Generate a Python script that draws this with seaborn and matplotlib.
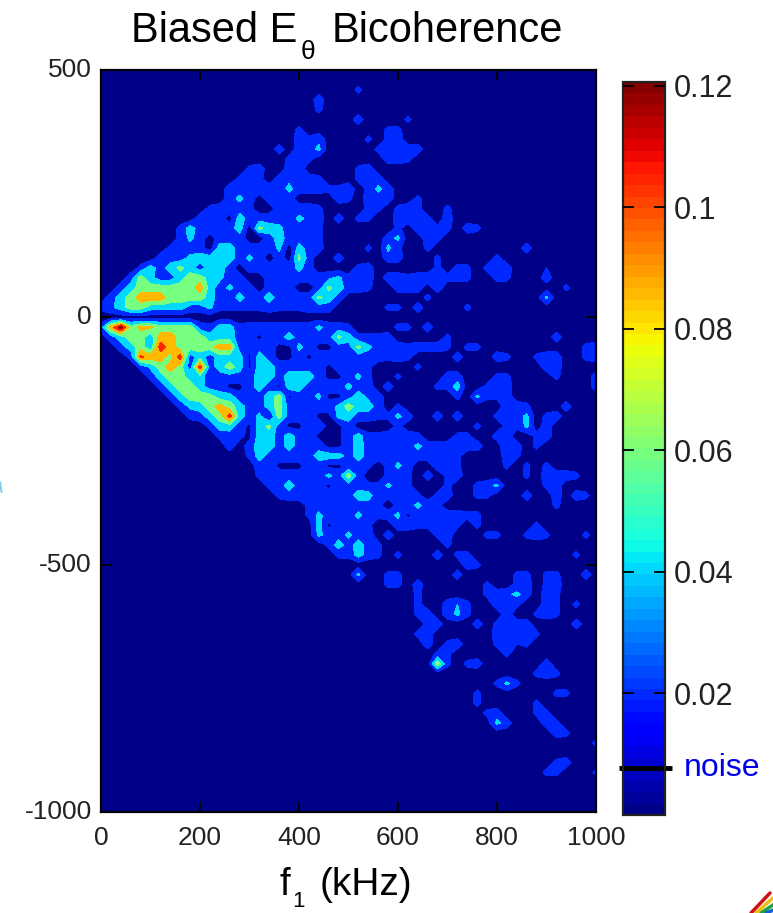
import matplotlib
matplotlib.use('Agg')
import matplotlib.pyplot as plt
from matplotlib.colors import ListedColormap
from matplotlib.lines import Line2D
import numpy as np
import pandas as pd
import seaborn as sns

sns.set_style('white')
plt.rcParams['font.family'] = ['Liberation Sans', 'DejaVu Sans']

# axes of the grid, kHz
f1_values = list(range(0, 1001, 20))
f2_values = list(range(500, -1001, -20))

f1_ticks = [0, 200, 400, 600, 800, 1000]
f2_ticks = [500, 0, -500, -1000]
cbar_ticks = [0.02, 0.04, 0.06, 0.08, 0.1, 0.12]
cbar_labels = ['0.02', '0.04', '0.06', '0.08', '0.1', '0.12']
noise_level = 0.0077

# bicoherence, in steps of 0.005 (base 36 digits)
# row index: "first column:digits"
upper_rows = {
    2: "26:3",
    3: "22:4",
    4: "22:3",
    5: "26:4 31:3",
    6: "20:3 29:33",
    7: "20:435 27:3 29:34",
    8: "18:4 20:447 28:34444",
    9: "19:343 29:443",
    10: "15:34 19:44 26:34",
    11: "14:343 18:45443 26:344",
    12: "13:4444447444335 27:374",
    13: "13:474 17:444 24:43 27:444 32:3",
    14: "11:34443 18:43443 27:33 30:343 35:3",
    15: "10:444 14:844443754 24:4 26:33 30:4443 35:4",
    16: "8:3844448 16:b874443 30:3 32:4433 37:43",
    17: "8:374 12:444 17:484443 29:47 33:43",
    18: "7:3444 12:8844437 20:844 27:3 29:73 33:3 43:4",
    19: "6:44478888474 18:4 20:b4 24:4 29:44 34:3 40:3",
    20: "4:3848b84884 15:4444474 26:34 34:3 36:33 39:354 45:2",
    21: "3:4c7448cc8744 17:44444457344 29:443444333 40:33 45:4",
    22: "2:48ccccccg84744 17:444 22:4b8443 30:444 34:4 47:3",
    23: "1:48cgggcccc84384484444b84 33:3 45:7",
    24: "0:358cc88884 473333 34333444 29:33 32:4 37:3",
}
lower_rows = {
    26: "0:4gocffcccc4388344444447443 30:33 33:4",
    27: "1:48cc7ggccc8884414484444b83334 35:3 46:4",
    28: "2:48c7kgccccgg43441174 22:1144b744434443 37:33 49:34",
    29: "3:3jggck48488818411414444444343 36:4 40:43 44:344 49:34",
    30: "4:37cgc4k48c81884444414443 32:3 45:44",
    31: "5:38cc8834444884888411473 30:3 35:44 40:33 46:3 50:4",
    32: "6:38cc844114841884444744 29:4 34:338 39:344 50:4",
    33: "7:38ccc883448c1447114854 36:3 38:7334",
    34: "8:378cgc8448c444447c884 30:3 41:443 47:4",
    35: "9:348ck8471c4441178443 29:374 34:4 36:4 40:3447 45:34",
    36: "11:388418b41144114 30:3 38:3 41:337 45:4",
    37: "12:343188484411148334443 36:33 40:44 44:34",
    38: "13:4 15:488484441148444447444344 41:64 44:3",
    39: "15:3844444888484444444443 41:43",
    40: "16:441114411343 29:374 34:443 41:3 43:3 45:3",
    41: "16:344443474c4 29:333 33:4 35:34 43:3 45:4443",
    42: "17:348444144433743 35:3 38:347 45:34",
    43: "18:344444448833443 34:34 38:33 43:4 46:4 48:43",
    44: "21:34433443 30:34743 46:3",
    45: "21:374447434714444433",
    46: "22:814443 30:4433443 38:3 44:3",
    47: "22:744744 29:4 34:34 39:33 43:343 49:3",
    48: "23:384843 35:3",
    49: "24:33843 30:3 34:4 36:33 48:3",
}
tail_rows = {
    50: "37:43",
    51: "26:7 29:33 36:4 42:33 45:33 49:4",
    52: "29:33 32:4 39:3 42:34 45:34",
    53: "32:3 39:34574 45:43",
    54: "32:3 35:463 40:443 45:43 48:3",
    55: "32:34 35:473 41:4 44:343",
    56: "33:34 38:4 40:3444 48:4",
    57: "32:34 40:4444 44:3",
    58: "33:4 35:34 40:3323",
    59: "34:33 41:3",
    60: "34:d3 37:34 45:4",
    61: "44:343",
    62: "40:373",
    63: "38:3 46:33",
    64: "38:3 44:3",
    65: "39:34 44:33",
    66: "40:74 45:43",
    67: "46:43",
    68: "50:3",
    70: "46:34",
    71: "45:33 50:3",
}

grid = np.zeros((len(f2_values), len(f1_values)))
for rows in (upper_rows, lower_rows, tail_rows):
    for j, row in rows.items():
        for tok in row.split():
            if ':' in tok:
                start, digits = tok.split(':')
                col = int(start)
            else:
                digits = tok  # same run goes on after a space
            for c in digits:
                grid[j, col] = int(c, 36) * 0.005
                col += 1
df = pd.DataFrame(grid, index=f2_values, columns=f1_values)

W, H = 773, 913
vmax = 0.1206
jet = matplotlib.colormaps['jet']
palette = sns.color_palette([jet((i + 0.5) / 64) for i in range(64)])
cmap = ListedColormap(palette)

fig = plt.figure(figsize=(W / 100, H / 100), dpi=100)
ax = fig.add_axes([101 / W, 1 - 812 / H, 495 / W, 742 / H])
cax = fig.add_axes([623 / W, 1 - 815 / H, 42 / W, 733 / H])

sns.heatmap(df, ax=ax, cbar_ax=cax, cmap=cmap, vmin=0, vmax=vmax)

# smooth contour bands on top of the cells, same colours as the bar
levels = [-0.001, 0.01, 0.03, 0.05, 0.07, 0.09, 0.11, 0.13]
mids = [0, 0.02, 0.04, 0.06, 0.085, 0.105, 0.12]
band_colors = [palette[min(int(m / vmax * 64), 63)] for m in mids]
xpos = np.arange(len(f1_values)) + 0.5
ypos = np.arange(len(f2_values)) + 0.5
ax.contourf(xpos, ypos, grid, levels=levels, colors=band_colors)

ax.set_xlim(0.5, len(f1_values) - 0.5)
ax.set_ylim(len(f2_values) - 0.5, 0.5)
ax.set_xticks([f1_values.index(v) + 0.5 for v in f1_ticks])
ax.set_xticklabels([str(v) for v in f1_ticks], rotation=0)
ax.set_yticks([f2_values.index(v) + 0.5 for v in f2_ticks])
ax.set_yticklabels([str(v) for v in f2_ticks], rotation=0)
ax.set_xlabel('')
ax.set_ylabel('')
ax.set_axisbelow(False)
ax.tick_params(axis='both', direction='in', top=True, right=True, bottom=True, left=True,
               length=7, width=1.3, labelsize=19, color='black', labelcolor='#222222')
ax.tick_params(axis='x', pad=10)
ax.tick_params(axis='y', pad=6.5)
for s in ax.spines.values():
    s.set_visible(True)
    s.set_linewidth(1.6)
    s.set_color('black')

cbar = ax.collections[0].colorbar
cbar.set_ticks(cbar_ticks)
cbar.set_ticklabels(cbar_labels)
cbar.outline.set_visible(True)
cbar.outline.set_linewidth(1.6)
cbar.outline.set_edgecolor('#222222')
cax.set_axisbelow(False)
cax.tick_params(axis='y', direction='in', left=True, right=True, length=8, width=1.3,
                labelsize=22, pad=6, color='black', labelcolor='#222222')

# noise marker across the colour bar
tr = cax.get_yaxis_transform()
cax.plot([-0.1, 1.17], [noise_level, noise_level], color='black', lw=3.5, transform=tr,
         clip_on=False, solid_capstyle='butt')
cax.text(1.45, noise_level, 'noise', color='#0000ee', fontsize=23, va='center', ha='left',
         transform=tr)

# title and label in pieces, the subscripts hang low in the original
fig.text(297 / W, 1 - 42 / H, 'Biased E', fontsize=30, ha='right', va='baseline', color='black')
fig.text(308 / W, 1 - 52 / H, '\u03b8', fontsize=19, ha='center', va='center', color='black')
fig.text(332 / W, 1 - 42 / H, 'Bicoherence', fontsize=30, ha='left', va='baseline', color='black')
fig.text(279 / W, 1 - 895 / H, 'f', fontsize=28, ha='left', va='baseline', color='black')
fig.text(299 / W, 1 - 901 / H, '1', fontsize=16, ha='center', va='center', color='black')
fig.text(320 / W, 1 - 895 / H, '(kHz)', fontsize=28, ha='left', va='baseline', color='black')

# clipped slide logo in the corner and the speck on the left edge
for i, c in enumerate(['#d01010', '#f0c010', '#20a040', '#1060d0']):
    fig.add_artist(Line2D([(751 + 5 * i) / W, (770 + 3 * i) / W], [0, (20 - 5 * i) / H],
                          color=c, lw=2.5))
fig.add_artist(Line2D([0, 1.5 / W], [1 - 482 / H, 1 - 492 / H], color='#7fd0f0', lw=1.5))

fig.savefig('out.png', dpi=100)
